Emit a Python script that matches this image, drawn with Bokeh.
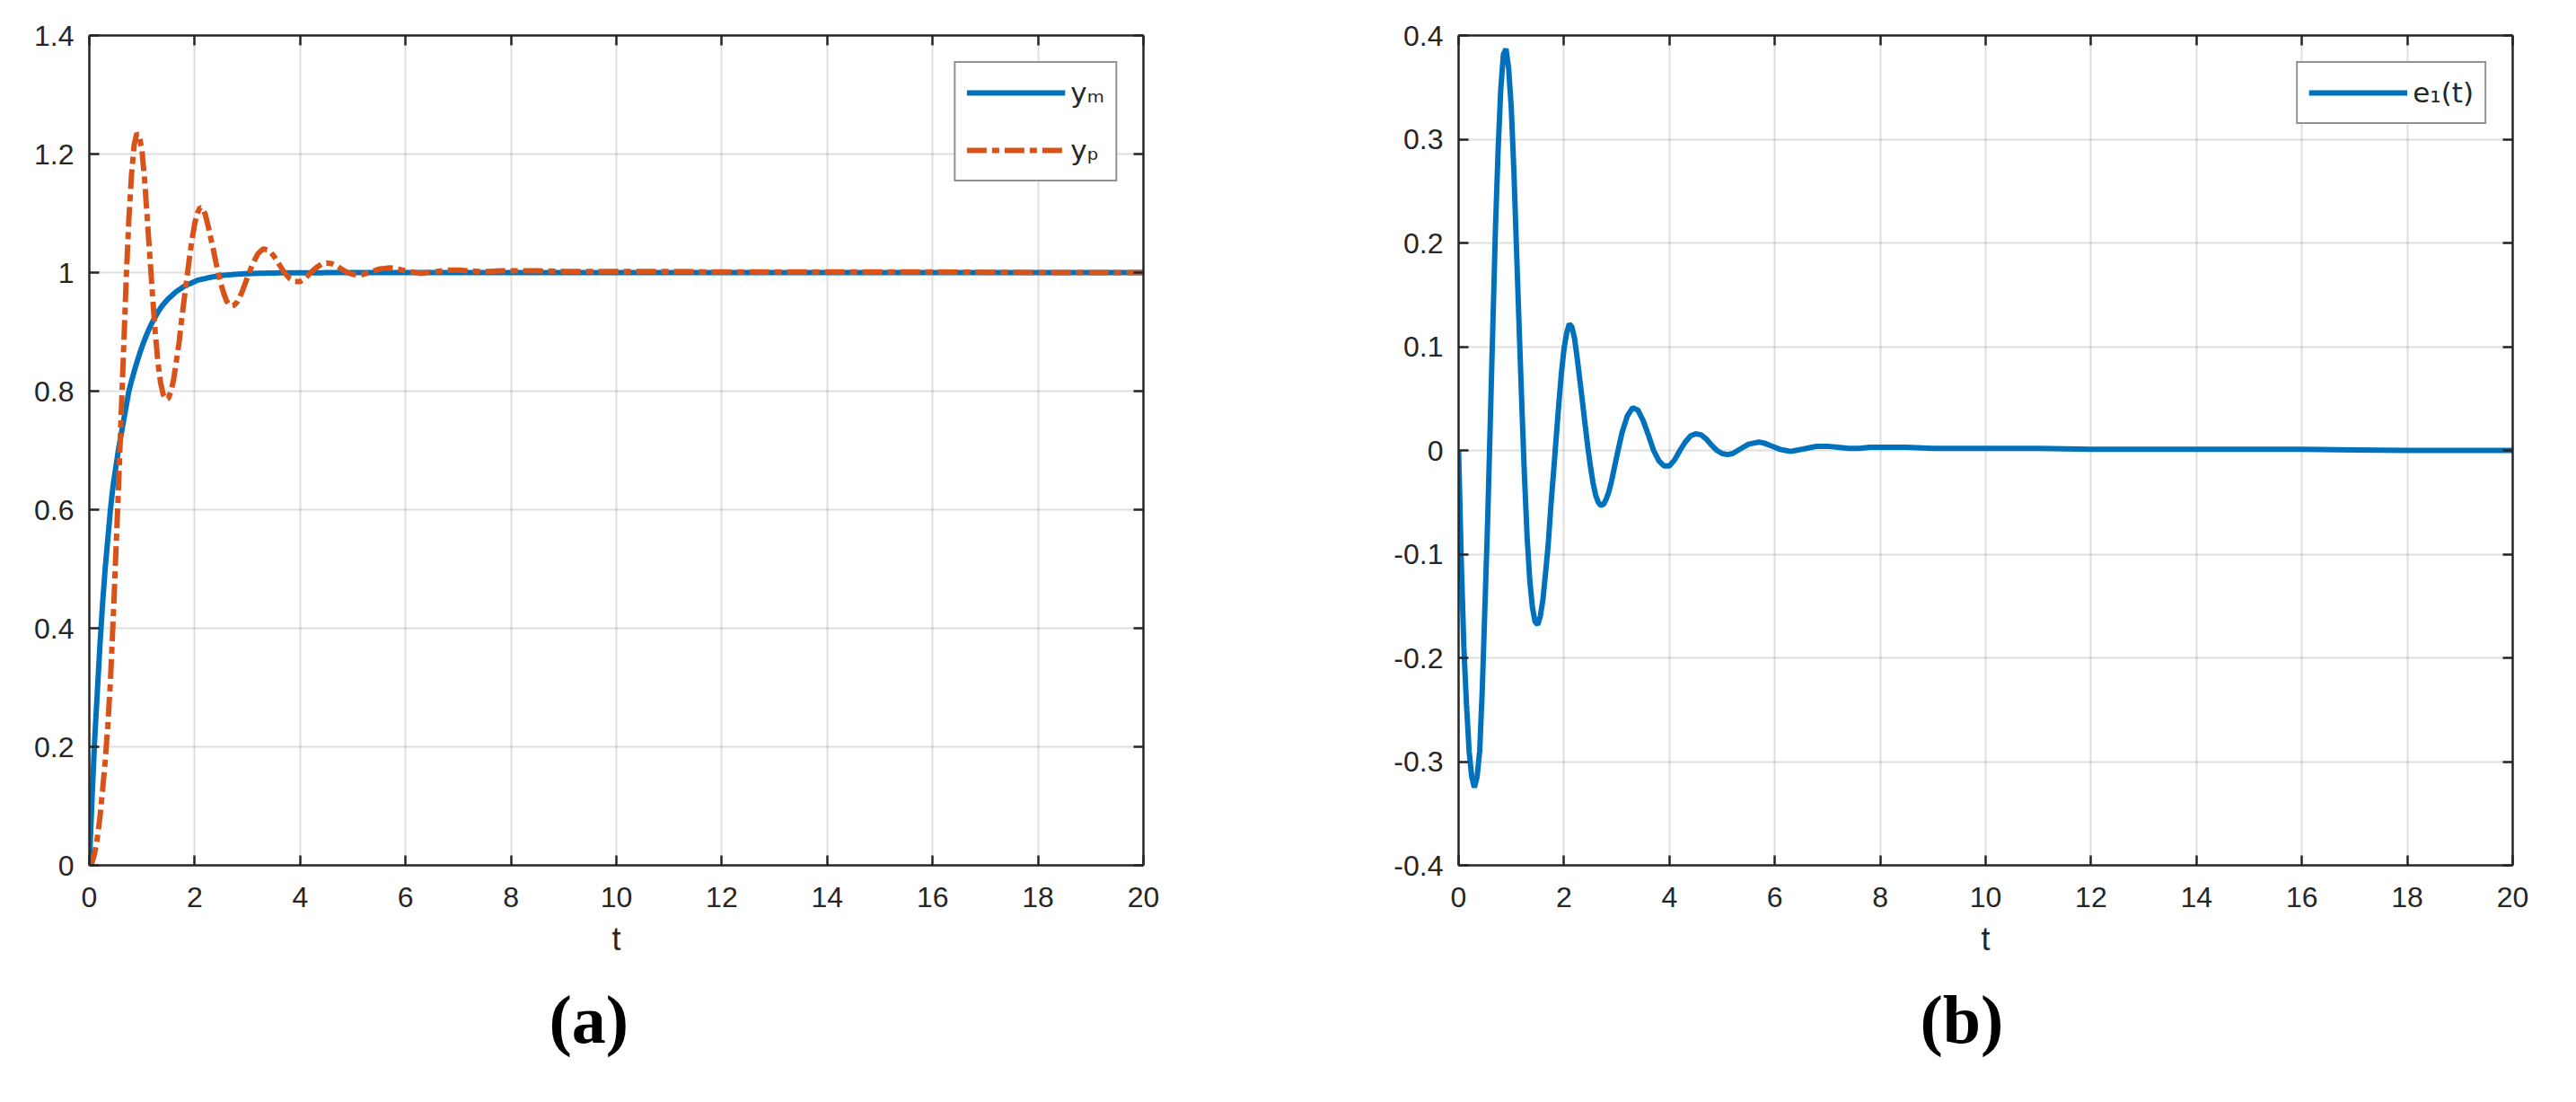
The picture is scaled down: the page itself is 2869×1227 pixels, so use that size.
from bokeh.plotting import figure
from bokeh.layouts import row
from bokeh.models import Range1d, FixedTicker, LinearAxis, CustomJSTickFormatter, Title
from bokeh.embed import file_html
from bokeh.resources import INLINE

# ---------------- data ----------------
t = [0.00, 0.05, 0.10, 0.15, 0.20, 0.25, 0.30, 0.35, 0.40, 0.45,
     0.50, 0.55, 0.60, 0.65, 0.70, 0.75, 0.80, 0.85, 0.90, 0.95,
     1.00, 1.05, 1.10, 1.15, 1.20, 1.25, 1.30, 1.35, 1.40, 1.45,
     1.50, 1.55, 1.60, 1.65, 1.70, 1.75, 1.80, 1.85, 1.90, 1.95,
     2.00, 2.05, 2.10, 2.15, 2.20, 2.25, 2.30, 2.35, 2.40, 2.45,
     2.50, 2.55, 2.60, 2.65, 2.70, 2.75, 2.80, 2.85, 2.90, 2.95,
     3.00, 3.1, 3.2, 3.3, 3.4, 3.5, 3.6, 3.7, 3.8, 3.9,
     4.0, 4.1, 4.2, 4.3, 4.4, 4.5, 4.6, 4.7, 4.8, 4.9,
     5.0, 5.1, 5.2, 5.3, 5.4, 5.5, 5.6, 5.7, 5.8, 5.9,
     6.0, 6.1, 6.2, 6.3, 6.4, 6.5, 6.6, 6.7, 6.8, 6.9,
     7.0, 7.2, 7.4, 7.6, 7.8, 8.0, 8.5, 9, 10, 11,
     12, 13, 14, 15, 16, 17, 18, 19, 20]

y_m = [0.0, 0.11, 0.21, 0.29, 0.37, 0.44, 0.50, 0.55, 0.60, 0.64,
       0.67, 0.70, 0.725, 0.75, 0.775, 0.80, 0.817, 0.833, 0.848, 0.862,
       0.875, 0.887, 0.898, 0.908, 0.917, 0.925, 0.933, 0.940, 0.946, 0.951,
       0.956, 0.960, 0.964, 0.968, 0.971, 0.974, 0.977, 0.979, 0.981, 0.983,
       0.985, 0.987, 0.988, 0.989, 0.990, 0.991, 0.992, 0.993, 0.9935, 0.994,
       0.995, 0.9955, 0.996, 0.9963, 0.9966, 0.997, 0.9972, 0.9975, 0.9978, 0.998,
       0.998, 0.9985, 0.9988, 0.999, 0.9992, 0.9994, 0.9995, 0.9996, 0.9997, 0.9998,
       0.9998, 0.9998, 0.9998, 0.9998, 0.9998, 1.0, 1.0, 1.0, 1.0, 1.0,
       1.0, 1.0, 1.0, 1.0, 1.0, 1.0, 1.0, 1.0, 1.0, 1.0,
       1.0, 1.0, 1.0, 1.0, 1.0, 1.0, 1.0, 1.0, 1.0, 1.0,
       1.0, 1.0, 1.0, 1.0, 1.0, 1.0, 1.0, 1.0, 1.0, 1.0,
       1.0, 1.0, 1.0, 1.0, 1.0, 1.0, 1.0, 1.0, 1.0]

y_p = [0.0, 0.005, 0.02, 0.045, 0.08, 0.125, 0.175, 0.235, 0.31, 0.41,
       0.52, 0.63, 0.75, 0.87, 0.99, 1.09, 1.165, 1.215, 1.235, 1.23,
       1.205, 1.155, 1.09, 1.025, 0.96, 0.90, 0.85, 0.815, 0.795, 0.786,
       0.788, 0.80, 0.82, 0.85, 0.88, 0.92, 0.955, 0.99, 1.025, 1.057,
       1.083, 1.10, 1.11, 1.108, 1.098, 1.08, 1.06, 1.04, 1.018, 0.998,
       0.98, 0.965, 0.953, 0.946, 0.944, 0.945, 0.95, 0.958, 0.968, 0.98,
       0.992, 1.015, 1.032, 1.040, 1.038, 1.028, 1.014, 1.000, 0.990, 0.985,
       0.985, 0.991, 1.000, 1.008, 1.014, 1.016, 1.015, 1.011, 1.005, 1.000,
       0.997, 0.996, 0.997, 1.000, 1.003, 1.006, 1.007, 1.008, 1.007, 1.005,
       1.003, 1.001, 1.000, 0.999, 1.000, 1.001, 1.002, 1.003, 1.004, 1.004,
       1.004, 1.003, 1.002, 1.002, 1.003, 1.003, 1.003, 1.002, 1.002, 1.002,
       1.001, 1.001, 1.001, 1.001, 1.001, 1.0005, 1.0, 1.0, 1.0]

e_1 = [0.0, -0.105, -0.19, -0.245, -0.29, -0.315, -0.325, -0.315, -0.29, -0.23,
       -0.15, -0.07, 0.025, 0.12, 0.215, 0.29, 0.348, 0.382, 0.387, 0.368,
       0.33, 0.268, 0.192, 0.117, 0.043, -0.025, -0.083, -0.125, -0.151, -0.165,
       -0.168, -0.16, -0.144, -0.118, -0.091, -0.054, -0.022, 0.011, 0.044, 0.074,
       0.098, 0.113, 0.122, 0.119, 0.108, 0.089, 0.068, 0.047, 0.025, 0.004,
       -0.015, -0.031, -0.043, -0.050, -0.053, -0.052, -0.047, -0.040, -0.030, -0.018,
       -0.006, 0.017, 0.033, 0.041, 0.039, 0.029, 0.015, 0.000, -0.010, -0.015,
       -0.015, -0.009, 0.000, 0.008, 0.014, 0.016, 0.015, 0.011, 0.005, 0.000,
       -0.003, -0.004, -0.003, 0.000, 0.003, 0.006, 0.007, 0.008, 0.007, 0.005,
       0.003, 0.001, 0.000, -0.001, 0.000, 0.001, 0.002, 0.003, 0.004, 0.004,
       0.004, 0.003, 0.002, 0.002, 0.003, 0.003, 0.003, 0.002, 0.002, 0.002,
       0.001, 0.001, 0.001, 0.001, 0.001, 0.0005, 0.0, 0.0, 0.0]

x_ticks = [0, 2, 4, 6, 8, 10, 12, 14, 16, 18, 20]
ya_ticks = [0, 0.2, 0.4, 0.6, 0.8, 1.0, 1.2, 1.4]
yb_ticks = [-0.4, -0.3, -0.2, -0.1, 0, 0.1, 0.2, 0.3, 0.4]

legend_a = ["y\u2098", "y\u209a"]
legend_b = ["e\u2081(t)"]
captions = ["(a)", "(b)"]

assert len(t) == len(y_m) == len(y_p) == len(e_1)

# ---------------- styling ----------------
AX = "#262626"
BLUE = "#0072BD"
ORANGE = "#D95319"
H = 1211
TOP = 39
FRAME_H = 924
BOTTOM = H - TOP - FRAME_H


def make_fig(width, b_left, b_right, y_lo, y_hi, yticks):
    p = figure(width=width, height=H, x_range=Range1d(0, 20), y_range=Range1d(y_lo, y_hi),
               output_backend="svg", toolbar_location=None,
               min_border_left=b_left, min_border_right=b_right,
               min_border_top=TOP, min_border_bottom=BOTTOM,
               x_axis_label="t")
    p.outline_line_color = None
    p.background_fill_color = "white"
    p.border_fill_color = "white"
    fmt = CustomJSTickFormatter(code="return Number(tick.toFixed(2)).toString();")
    blank = CustomJSTickFormatter(code="return '';")

    xa = p.xaxis[0]
    xa.ticker = FixedTicker(ticks=x_ticks)
    xa.formatter = fmt
    xa.major_label_standoff = 24
    xa.axis_label_standoff = 12
    xa.axis_label_text_font = "Liberation Sans"
    xa.axis_label_text_font_size = "36px"
    xa.axis_label_text_font_style = "normal"
    xa.axis_label_text_color = AX

    ya = p.yaxis[0]
    ya.ticker = FixedTicker(ticks=yticks)
    ya.formatter = fmt
    ya.major_label_standoff = 17

    for ax in (xa, ya):
        ax.axis_line_color = AX
        ax.axis_line_width = 2.5
        ax.major_tick_line_color = AX
        ax.major_tick_line_width = 2.5
        ax.major_tick_in = 11
        ax.major_tick_out = 0
        ax.minor_tick_line_color = None
        ax.major_label_text_font = "Liberation Sans"
        ax.major_label_text_font_size = "32px"
        ax.major_label_text_color = AX

    top = LinearAxis(ticker=FixedTicker(ticks=x_ticks), formatter=blank)
    right = LinearAxis(ticker=FixedTicker(ticks=yticks), formatter=blank)
    for ax in (top, right):
        ax.axis_line_color = AX
        ax.axis_line_width = 2.5
        ax.major_tick_line_color = AX
        ax.major_tick_line_width = 2.5
        ax.major_tick_in = 11
        ax.major_tick_out = 0
        ax.minor_tick_line_color = None
        ax.major_label_standoff = 0
        ax.major_label_text_font_size = "1px"
    p.add_layout(top, "above")
    p.add_layout(right, "right")

    p.xgrid.ticker = FixedTicker(ticks=x_ticks)
    p.ygrid.ticker = FixedTicker(ticks=yticks)
    for g in (p.xgrid[0], p.ygrid[0]):
        g.grid_line_color = AX
        g.grid_line_alpha = 0.15
        g.grid_line_width = 2
    return p


def style_legend(p):
    lg = p.legend[0]
    lg.location = "top_right"
    lg.margin = 29
    lg.padding = 12
    lg.spacing = 22
    lg.glyph_width = 110
    lg.glyph_height = 42
    lg.label_standoff = 6
    lg.label_text_font = "DejaVu Sans"
    lg.label_text_font_size = "31px"
    lg.label_text_color = AX
    lg.border_line_color = AX
    lg.border_line_width = 2.5
    lg.background_fill_color = "white"
    lg.background_fill_alpha = 1.0


def add_caption(p, text, offset):
    p.add_layout(Title(text=text, align="left", offset=offset, standoff=44,
                       text_font="Liberation Serif", text_font_style="bold",
                       text_font_size="76px", text_color="black"), "below")


# ---------------- panel (a) ----------------
pa = make_fig(1532, 99, 259, 0, 1.4, ya_ticks)
pa.line(t, y_m, line_color=BLUE, line_width=6, legend_label=legend_a[0])
pa.line(t, y_p, line_color=ORANGE, line_width=6, line_dash="22 6 8 6",
        legend_label=legend_a[1])
style_legend(pa)
add_caption(pa, captions[0], 512)

# ---------------- panel (b) ----------------
pb = make_fig(1321, 92, 55, -0.4, 0.4, yb_ticks)
pb.line(t, e_1, line_color=BLUE, line_width=6, legend_label=legend_b[0])
style_legend(pb)
add_caption(pb, captions[1], 514)

layout = row(pa, pb, spacing=0)
open("out.html", "w").write(file_html(layout, INLINE))
